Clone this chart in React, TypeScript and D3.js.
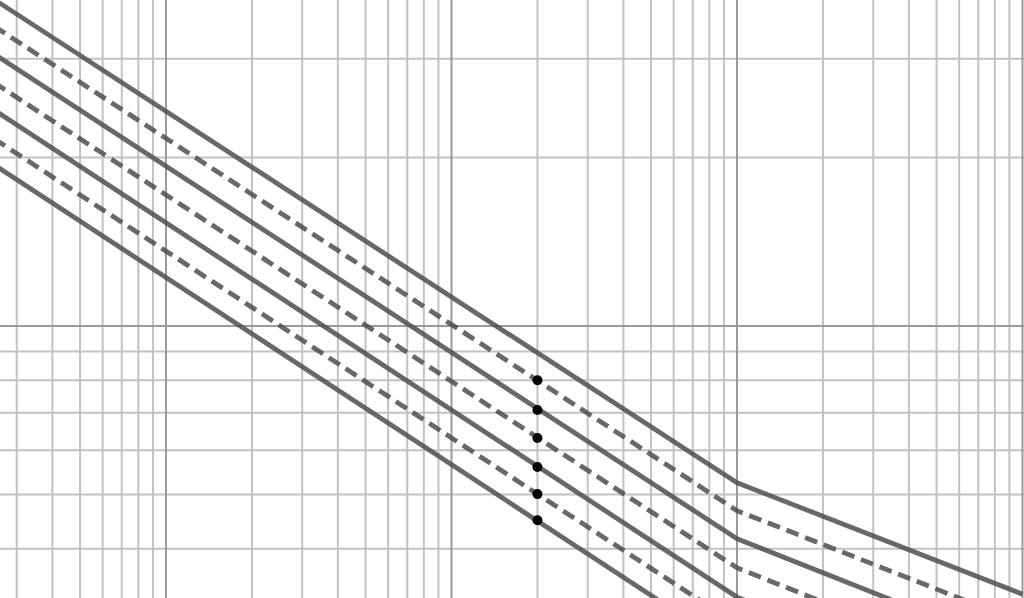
import * as d3 from 'd3'

// x positions of the line vertices (the break sits at x = 100)
const xPoints = [0.25, 100, 1000]

// y values at xPoints, top line first
const lineValues = [
  [3.83, 0.525, 0.332],
  [3.43, 0.468, 0.295],
  [3.06, 0.417, 0.262],
  [2.72, 0.37, 0.232],
  [2.43, 0.328, 0.206],
  [2.16, 0.293, 0.184],
  [1.94, 0.262, 0.164],
]
const lineDashed = [false, true, false, true, false, true, false]

// marked points, all at the same x
const dotX = 20
const dotValues = [0.8, 0.708, 0.631, 0.56, 0.501, 0.45]

const width = 1024
const height = 598

export default function App() {
  // decades: 285.5px wide on x, 560px tall on y
  const xBase = d3.scaleLog().domain([1, 1000]).range([166, 1022.5])
  const yBase = d3.scaleLog().domain([1, 0.1]).range([326, 886])

  const x = d3
    .scaleLog()
    .domain([xBase.invert(0), xBase.invert(width)])
    .range([0, width])
  const y = d3
    .scaleLog()
    .domain([yBase.invert(height), yBase.invert(0)])
    .range([height, 0])

  const isMajor = (v: number) => Math.abs(Math.log10(v) - Math.round(Math.log10(v))) < 1e-6

  const xTicks = x.ticks()
  const yTicks = y.ticks()

  const line = d3
    .line<number>()
    .x((_, i) => x(xPoints[i]))
    .y((d) => y(d))

  return (
    <div style={{ position: 'absolute', left: 0, top: 0 }}>
      <svg width={width} height={height} style={{ display: 'block' }}>
        <rect width={width} height={height} fill="#fff" />
        <g>
          {xTicks
            .filter((t) => !isMajor(t))
            .map((t) => (
              <line key={'xm' + t} x1={x(t)} x2={x(t)} y1={0} y2={height} stroke="#c2c2c2" strokeWidth={2} />
            ))}
          {yTicks
            .filter((t) => !isMajor(t))
            .map((t) => (
              <line key={'ym' + t} x1={0} x2={width} y1={y(t)} y2={y(t)} stroke="#c2c2c2" strokeWidth={2} />
            ))}
          {xTicks.filter(isMajor).map((t) => (
            <line key={'xM' + t} x1={x(t)} x2={x(t)} y1={0} y2={height} stroke="#9a9a9a" strokeWidth={2} />
          ))}
          {yTicks.filter(isMajor).map((t) => (
            <line key={'yM' + t} x1={0} x2={width} y1={y(t)} y2={y(t)} stroke="#9a9a9a" strokeWidth={2} />
          ))}
        </g>
        <g>
          {lineValues.map((vals, i) => (
            <path
              key={i}
              d={line(vals) || ''}
              fill="none"
              stroke="#4d4d4d"
              strokeOpacity={0.85}
              strokeWidth={4.8}
              strokeLinejoin="round"
              strokeDasharray={lineDashed[i] ? '13,7' : undefined}
            />
          ))}
        </g>
        <g>
          {dotValues.map((v, i) => (
            <circle key={i} cx={x(dotX)} cy={y(v)} r={5} fill="#000" />
          ))}
        </g>
      </svg>
    </div>
  )
}
